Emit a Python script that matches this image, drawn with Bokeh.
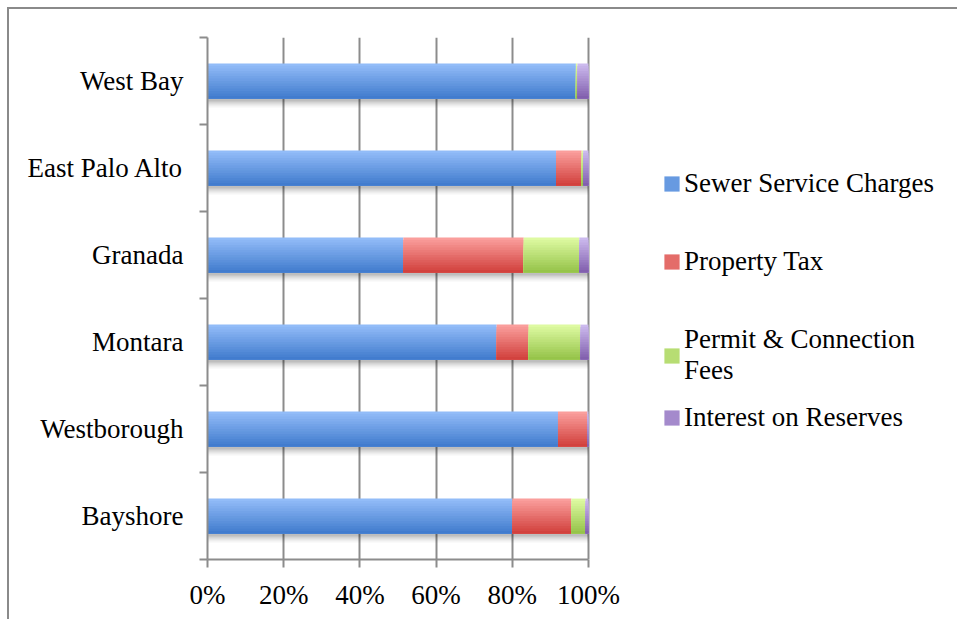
import numpy as np
from bokeh.plotting import figure
from bokeh.models import (Range1d, FixedTicker, Legend, LegendItem, LinearAxis, Grid)
from bokeh.embed import file_html
from bokeh.resources import INLINE

# ---- data (bottom to top) ----
districts = ["Bayshore", "Westborough", "Montara", "Granada", "East Palo Alto", "West Bay"]
sewer_service = [80.0, 92.0, 75.9, 51.4, 91.5, 96.7]
property_tax = [15.5, 7.7, 8.4, 31.6, 6.7, 0.0]
permit_fees = [3.7, 0.0, 13.6, 14.6, 0.4, 0.4]
interest = [0.8, 0.3, 2.1, 2.4, 1.4, 2.9]
series_names = ["Sewer Service Charges", "Property Tax", "Permit & Connection\nFees", "Interest on Reserves"]
x_ticks = [0, 20, 40, 60, 80, 100]

series = [sewer_service, property_tax, permit_fees, interest]
tops = [(146, 188, 248), (250, 158, 156), (222, 250, 162), (204, 186, 238)]
bottoms = [(66, 124, 206), (210, 66, 62), (150, 196, 74), (130, 96, 174)]

FONT = "Liberation Serif"
FS = "27px"
GRAY = "#8c8c8c"

p = figure(width=950, height=612, output_backend="svg", toolbar_location=None,
           x_range=Range1d(0, 197.4), y_range=Range1d(0, len(districts)),
           min_border_left=198, min_border_right=0, min_border_top=28, min_border_bottom=62,
           outline_line_color=None, x_axis_location=None, y_axis_location=None,
           styles={"border-top": "2px solid #8a8a8a", "border-left": "2px solid #8a8a8a",
                   "margin-top": "7px", "margin-left": "7px"})
p.xgrid.visible = False
p.ygrid.visible = False

y = np.arange(len(districts)) + 0.5
vals = np.array(series, dtype=float)
cum = np.cumsum(vals, axis=0)
left = np.vstack([np.zeros(len(districts)), cum[:-1]])
total = cum[-1]
bar_h = 0.4

grid = Grid(dimension=0, ticker=FixedTicker(ticks=x_ticks), grid_line_color=GRAY, grid_line_width=2)
p.add_layout(grid)

# soft drop shadow
px = len(districts) / 522.0
for k, a in enumerate([0.10, 0.08, 0.06, 0.04]):
    p.hbar(y=y - (3 + 2 * k) * px, height=bar_h, left=0, right=total,
           fill_color="#000000", fill_alpha=a, line_color=None)

# gradient bars: nested strips from top to bottom
N = 14
mid_renderers = []
bar_bottom = y - bar_h / 2
bar_top = y + bar_h / 2
for s in range(len(series)):
    t = np.array(tops[s]); b = np.array(bottoms[s])
    mid_r = None
    for k in range(N):
        f = k / (N - 1)
        c = tuple(int(round(v)) for v in (t * (1 - f) + b * f))
        col = "#%02x%02x%02x" % c
        top_k = bar_top - k * bar_h / N
        r = p.hbar(y=(top_k + bar_bottom) / 2, height=top_k - bar_bottom,
                   left=left[s], right=cum[s], fill_color=col, line_color=None)
        if k == N // 2:
            mid_r = r
    mid_renderers.append(mid_r)

# x axis
xa = LinearAxis(ticker=FixedTicker(ticks=x_ticks), bounds=(0, 100),
                major_label_overrides={t: f"{t}%" for t in x_ticks},
                axis_line_color=GRAY, axis_line_width=2,
                major_tick_line_color=GRAY, major_tick_line_width=2,
                major_tick_out=8, major_tick_in=0, minor_tick_line_color=None,
                major_label_text_font=FONT, major_label_text_font_size=FS,
                major_label_text_color="black", major_label_standoff=12)
p.add_layout(xa, "below")

# y axis: labels at centres, ticks at category boundaries
ya = LinearAxis(ticker=FixedTicker(ticks=list(y), minor_ticks=list(range(len(districts) + 1))),
                major_label_overrides={float(v): d for v, d in zip(y, districts)},
                axis_line_color=GRAY, axis_line_width=2,
                major_tick_line_color=None, major_tick_out=0, major_tick_in=0,
                minor_tick_line_color=GRAY, minor_tick_line_width=2,
                minor_tick_out=8, minor_tick_in=0,
                major_label_text_font=FONT, major_label_text_font_size=FS,
                major_label_text_color="black", major_label_standoff=16)
p.add_layout(ya, "left")

# legends
legend_y = [360, 282, 173, 126]
for name, r, ly in zip(series_names, mid_renderers, legend_y):
    lg = Legend(items=[LegendItem(label=name, renderers=[r])], location=(455, ly),
                background_fill_alpha=0, border_line_color=None, padding=0, margin=0,
                glyph_width=19, glyph_height=19, label_standoff=3,
                label_text_font=FONT, label_text_font_size=FS, label_text_color="black")
    p.add_layout(lg, "center")

open("out.html", "w").write(file_html(p, INLINE))
